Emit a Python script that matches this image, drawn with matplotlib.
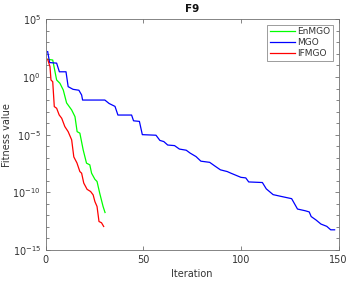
import matplotlib
matplotlib.use("Agg")
import matplotlib.pyplot as plt
from matplotlib.ticker import FixedLocator, NullFormatter
import numpy as np

# ---- data (vertices, log10 of fitness) ----
enmgo_iter = [1, 3.6, 5.6, 7.3, 9, 10.7, 13.3, 15, 16.1, 17.5, 19.2, 20.9, 22.6, 23.5, 25.2, 26.3, 27.7, 29.4, 30.4]
enmgo_log = [1.53, 1.47, -0.26, -0.55, -1.13, -2.25, -2.86, -3.44, -4.74, -4.87, -6.32, -7.47, -7.62, -8.34, -8.87, -9.06, -10.1, -11.23, -11.75]

mgo_iter = [1, 2, 5.6, 7, 10.4, 11.5, 14, 17, 18.4, 18.9, 30.3, 32.5, 35.5, 37, 44, 45, 48, 49.5,
            56.5, 58.5, 60.5, 62.5, 66, 68.5, 72, 74, 77, 79.5, 84, 86.5, 89.5, 93, 95, 100,
            102.5, 104, 111, 113, 116.5, 120.5, 126, 129, 133, 135, 136, 138.5, 141, 144, 146, 148]
mgo_log = [2.2, 1.25, 1.2, 0.45, 0.45, -0.84, -1.07, -1.15, -1.56, -2.0, -2.0, -2.3, -2.55, -3.3, -3.3, -3.8, -3.85, -5.0,
           -5.05, -5.5, -5.6, -5.9, -5.95, -6.25, -6.35, -6.6, -6.9, -7.3, -7.4, -7.7, -8.05, -8.2, -8.35, -8.7,
           -8.75, -9.1, -9.15, -9.7, -10.2, -10.35, -10.55, -11.45, -11.6, -11.7, -12.1, -12.4, -12.75, -12.95, -13.25, -13.25]

ifmgo_iter = [1, 2.2, 2.7, 3.6, 4.4, 5.6, 6.9, 8.2, 9.8, 11.5, 13.3, 14.4, 16, 17.5, 18.4, 19.5, 21.2, 23, 24.3, 25.2, 26.3, 27.3, 28.6, 29.7]
ifmgo_log = [1.53, 0.89, -0.26, -0.41, -2.57, -2.71, -3.29, -3.58, -4.3, -4.74, -5.45, -6.93, -7.45, -8.2, -8.34, -9.2, -9.74, -9.93, -10.22, -10.8, -11.23, -12.53, -12.64, -12.96]

series_names = ["EnMGO", "MGO", "IFMGO"]
title = "F9"
xlabel = "Iteration"
ylabel = "Fitness value"

gray = "#333333"
axgray = "#707070"

fig = plt.figure(figsize=(3.58, 2.86), dpi=100)
ax = fig.add_axes([45.7/358, 1-250/286, (338.5-45.7)/358, (250-19.3)/286])

ax.plot(enmgo_iter, 10.0**np.array(enmgo_log), color="#00ff00", lw=0.9, label=series_names[0])
ax.plot(mgo_iter, 10.0**np.array(mgo_log), color="#0000ff", lw=0.9, label=series_names[1])
ax.plot(ifmgo_iter, 10.0**np.array(ifmgo_log), color="#ff0000", lw=0.9, label=series_names[2])

ax.set_yscale("log")
ax.set_xlim(0, 150)
ax.set_ylim(1e-15, 1e5)
ax.set_xticks([0, 50, 100, 150])
ax.yaxis.set_major_locator(FixedLocator([1e-15, 1e-10, 1e-5, 1e0, 1e5]))
ax.yaxis.set_minor_locator(FixedLocator([10.0**k for k in range(-15, 6)]))
ax.yaxis.set_minor_formatter(NullFormatter())
ax.set_yticklabels([r"$10^{-15}$", r"$10^{-10}$", r"$10^{-5}$", r"$10^{0}$", r"$10^{5}$"])

ax.tick_params(which="both", direction="in", top=True, right=True, colors=axgray,
               labelcolor=gray, labelsize=7, width=0.6)
ax.tick_params(which="major", length=3)
ax.tick_params(which="minor", length=2)
for s in ax.spines.values():
    s.set_color(axgray)
    s.set_linewidth(0.6)

ax.set_xlabel(xlabel, fontsize=7, color=gray, labelpad=3)
ax.set_ylabel(ylabel, fontsize=7, color=gray)
ax.yaxis.set_label_coords((12 - 45.7) / 292.8, 0.5)
ax.set_title(title, fontsize=7.5, fontweight="bold", color="#111111", pad=5)

leg = ax.legend(loc="upper right", fontsize=6.5, frameon=True, fancybox=False,
                handlelength=2.8, handletextpad=0.2, borderpad=0.3, labelspacing=0.2,
                borderaxespad=0.6)
leg.get_frame().set_edgecolor(axgray)
leg.get_frame().set_linewidth(0.6)
for t in leg.get_texts():
    t.set_color(gray)

fig.savefig("out.png", dpi=100)
